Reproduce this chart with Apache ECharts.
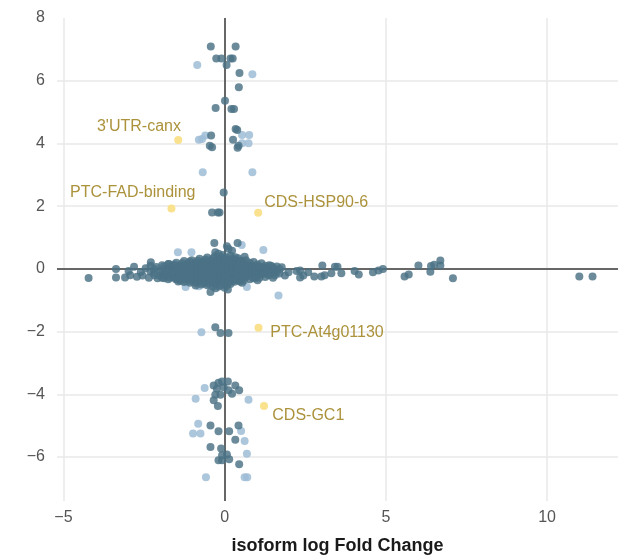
<!DOCTYPE html>
<html>
<head>
<meta charset="utf-8">
<script src="https://cdn.jsdelivr.net/npm/echarts@6/dist/echarts.min.js"></script>
<style>html,body{margin:0;padding:0;background:#fff}#c{width:621px;height:560px}</style>
</head>
<body>
<div id="c"></div>
<script>
// ---- data (x = isoform log fold change, y = second statistic) ----
const xTicks = [-5, 0, 5, 10];
const yTicks = [-6, -4, -2, 0, 2, 4, 6, 8];
const xTitle = "isoform log Fold Change";

// outlying significant isoforms (dark)
const darkUpper = [[-0.43,7.09],[0.34,7.09],[-0.26,6.71],[-0.10,6.71],[0.18,6.71],[0.25,6.71],[0.06,6.50],[0.46,6.25],[0.44,5.79],[0.01,5.36],[-0.28,5.13],[0.21,5.10],[0.29,5.10],[-0.42,4.25],[0.34,4.46],[0.39,4.43],[0.26,4.12],[-0.46,3.93],[-0.39,3.88],[0.43,3.93],[0.40,3.86],[-0.03,2.44],[-0.39,1.80],[-0.21,1.80],[-0.16,1.80]];
const darkLower = [[-0.29,-1.86],[-0.13,-2.04],[0.12,-2.04],[-0.34,-3.72],[-0.19,-3.63],[-0.08,-3.59],[0.10,-3.59],[0.33,-3.72],[0.45,-3.87],[0.23,-3.98],[0.12,-3.87],[-0.24,-3.82],[-0.29,-4.01],[-0.13,-4.01],[-0.34,-4.19],[-0.21,-4.37],[-0.03,-3.77],[-0.44,-4.99],[0.43,-4.99],[-0.19,-5.18],[0.14,-5.18],[0.33,-5.45],[-0.44,-5.68],[-0.11,-5.73],[-0.08,-5.94],[0.07,-5.92],[-0.19,-6.10],[-0.08,-6.10],[0.14,-6.07],[0.45,-6.23]];
const darkNearZero = [[-0.32,0.83],[0.40,0.83],[0.07,0.72],[0.12,0.64],[0.23,0.58],[-0.29,0.53],[-0.19,0.48],[0.62,0.39],[0.33,0.37],[-0.44,-0.74],[-0.90,-0.53],[-0.28,-0.62],[0.0,-0.60],[0.10,-0.66],[1.77,0.05],[1.87,-0.21],[1.98,-0.11],[2.23,-0.07],[2.44,-0.21]];
const darkLeftTail = [[-4.22,-0.29],[-3.37,0.0],[-3.37,-0.27],[-3.09,-0.27],[-2.98,-0.07],[-2.93,-0.20],[-2.81,0.07],[-2.72,-0.25],[-2.60,-0.10],[-2.55,-0.21],[-2.45,0.02],[-2.35,-0.28],[-2.29,0.21],[-2.20,-0.12],[-2.12,0.06],[-2.08,-0.30],[-1.73,0.16],[-1.52,-0.32]];
const darkRightTail = [[2.34,-0.27],[2.34,-0.05],[2.59,-0.11],[2.78,-0.24],[3.03,0.11],[3.00,-0.24],[3.10,-0.20],[3.42,0.07],[3.50,0.07],[3.31,-0.14],[3.62,-0.14],[4.03,-0.07],[4.16,-0.18],[4.60,-0.11],[4.77,-0.05],[4.91,0.0],[5.58,-0.24],[5.71,-0.18],[6.01,0.11],[6.38,-0.09],[6.40,0.09],[6.50,0.13],[6.69,0.27],[6.69,0.11],[7.08,-0.30],[11.00,-0.24],[11.41,-0.24]];
// dense core near the origin
const darkCore = [
[-2.0,-0.05],[-2.0,-0.22],
[-1.88,0.08],[-1.88,-0.15],[-1.88,-0.30],
[-1.75,0.16],[-1.75,-0.02],[-1.75,-0.20],[-1.75,-0.33],
[-1.62,0.10],[-1.62,-0.08],[-1.62,-0.25],
[-1.50,0.20],[-1.50,0.02],[-1.50,-0.14],[-1.50,-0.32],
[-1.38,0.12],[-1.38,-0.05],[-1.38,-0.22],[-1.38,-0.38],
[-1.26,0.25],[-1.26,0.06],[-1.26,-0.10],[-1.26,-0.28],[-1.26,-0.42],
[-1.14,0.18],[-1.14,0.0],[-1.14,-0.16],[-1.14,-0.34],
[-1.02,0.28],[-1.02,0.10],[-1.02,-0.06],[-1.02,-0.22],[-1.02,-0.40],
[-0.90,0.20],[-0.90,0.03],[-0.90,-0.13],[-0.90,-0.30],[-0.90,-0.45],
[-0.78,0.32],[-0.78,0.14],[-0.78,-0.04],[-0.78,-0.20],[-0.78,-0.37],
[-0.66,0.24],[-0.66,0.07],[-0.66,-0.10],[-0.66,-0.27],[-0.66,-0.46],
[-0.54,0.36],[-0.54,0.17],[-0.54,0.0],[-0.54,-0.17],[-0.54,-0.34],[-0.54,-0.52],
[-0.42,0.28],[-0.42,0.10],[-0.42,-0.07],[-0.42,-0.24],[-0.42,-0.42],
[-0.30,0.40],[-0.30,0.21],[-0.30,0.03],[-0.30,-0.14],[-0.30,-0.31],[-0.30,-0.50],
[-0.18,0.32],[-0.18,0.13],[-0.18,-0.04],[-0.18,-0.21],[-0.18,-0.38],[-0.18,-0.56],
[-0.06,0.44],[-0.06,0.25],[-0.06,0.07],[-0.06,-0.10],[-0.06,-0.27],[-0.06,-0.45],
[0.06,0.36],[0.06,0.17],[0.06,0.0],[0.06,-0.18],[0.06,-0.35],[0.06,-0.54],
[0.18,0.42],[0.18,0.22],[0.18,0.04],[0.18,-0.13],[0.18,-0.30],[0.18,-0.48],
[0.30,0.30],[0.30,0.12],[0.30,-0.06],[0.30,-0.23],[0.30,-0.41],
[0.42,0.34],[0.42,0.16],[0.42,-0.02],[0.42,-0.19],[0.42,-0.37],
[0.54,0.25],[0.54,0.07],[0.54,-0.10],[0.54,-0.28],[0.54,-0.44],
[0.66,0.28],[0.66,0.10],[0.66,-0.08],[0.66,-0.25],
[0.78,0.20],[0.78,0.02],[0.78,-0.15],[0.78,-0.33],
[0.90,0.22],[0.90,0.05],[0.90,-0.12],[0.90,-0.30],
[1.02,0.14],[1.02,-0.03],[1.02,-0.20],[1.02,-0.36],
[1.14,0.18],[1.14,0.0],[1.14,-0.17],
[1.26,0.10],[1.26,-0.08],[1.26,-0.26],
[1.38,0.12],[1.38,-0.04],[1.38,-0.20],
[1.50,0.05],[1.50,-0.13],[1.50,-0.28],
[1.62,0.08],[1.62,-0.10]
];
const darkCoreB = [
[-2.30,-0.08],[-2.30,0.10],[-2.18,-0.20],[-2.18,0.0],
[-1.94,0.12],[-1.94,-0.12],[-1.94,-0.28],
[-1.82,0.0],[-1.82,-0.22],
[-1.69,0.06],[-1.69,-0.12],[-1.69,-0.28],
[-1.56,0.14],[-1.56,-0.04],[-1.56,-0.20],
[-1.44,0.08],[-1.44,-0.10],[-1.44,-0.26],[-1.44,-0.40],
[-1.32,0.18],[-1.32,0.0],[-1.32,-0.16],[-1.32,-0.32],
[-1.20,0.10],[-1.20,-0.06],[-1.20,-0.22],[-1.20,-0.38],
[-1.08,0.24],[-1.08,0.06],[-1.08,-0.10],[-1.08,-0.28],[-1.08,-0.44],
[-0.96,0.14],[-0.96,-0.02],[-0.96,-0.18],[-0.96,-0.35],
[-0.84,0.26],[-0.84,0.08],[-0.84,-0.08],[-0.84,-0.26],[-0.84,-0.42],
[-0.72,0.18],[-0.72,0.0],[-0.72,-0.16],[-0.72,-0.32],[-0.72,-0.50],
[-0.60,0.30],[-0.60,0.10],[-0.60,-0.06],[-0.60,-0.24],[-0.60,-0.42],
[-0.48,0.20],[-0.48,0.04],[-0.48,-0.12],[-0.48,-0.30],[-0.48,-0.48],
[-0.36,0.34],[-0.36,0.14],[-0.36,-0.02],[-0.36,-0.20],[-0.36,-0.38],[-0.36,-0.56],
[-0.24,0.26],[-0.24,0.08],[-0.24,-0.10],[-0.24,-0.27],[-0.24,-0.45],
[-0.12,0.38],[-0.12,0.18],[-0.12,0.0],[-0.12,-0.16],[-0.12,-0.33],[-0.12,-0.52],
[0.0,0.30],[0.0,0.10],[0.0,-0.06],[0.0,-0.24],[0.0,-0.42],
[0.12,0.28],[0.12,0.08],[0.12,-0.09],[0.12,-0.26],[0.12,-0.44],
[0.24,0.32],[0.24,0.14],[0.24,-0.03],[0.24,-0.20],[0.24,-0.38],
[0.36,0.22],[0.36,0.04],[0.36,-0.14],[0.36,-0.32],
[0.48,0.26],[0.48,0.08],[0.48,-0.06],[0.48,-0.24],[0.48,-0.40],
[0.60,0.16],[0.60,-0.02],[0.60,-0.18],[0.60,-0.36],
[0.72,0.12],[0.72,-0.04],[0.72,-0.20],
[0.84,0.10],[0.84,-0.07],[0.84,-0.24],
[0.96,0.08],[0.96,-0.10],[0.96,-0.28],
[1.08,0.06],[1.08,-0.10],[1.08,-0.28],
[1.20,0.04],[1.20,-0.14],
[1.32,0.02],[1.32,-0.16],
[1.44,0.10],[1.44,-0.06],
[1.56,-0.04],[1.56,-0.20],
[1.70,0.0],[1.70,-0.15]
];
// non-significant isoforms (light)
const lightPoints = [[-0.85,6.50],[0.86,6.21],[-0.70,4.14],[-0.80,4.12],[-0.60,4.25],[0.54,4.27],[0.76,4.27],[0.54,4.01],[0.74,4.01],[-0.68,3.08],[0.86,3.08],
[-0.72,-2.02],[-0.62,-3.80],[-0.90,-4.14],[0.74,-4.17],[-0.82,-4.94],[-0.98,-5.25],[-0.75,-5.25],[0.51,-5.17],[0.62,-5.49],[0.69,-5.89],[-0.58,-6.64],[0.62,-6.64],[0.70,-6.64],
[-1.45,0.53],[-1.03,0.53],[1.20,0.60],[0.53,0.76],[-1.21,-0.58],[-0.80,-0.55],[0.69,-0.58],[1.67,-0.85]];
// highlighted isoforms
const hiNames = ["3'UTR-canx", "PTC-FAD-binding", "CDS-HSP90-6", "PTC-At4g01130", "CDS-GC1"];
const hiX = [-1.44, -1.65, 1.04, 1.05, 1.22];
const hiY = [4.11, 1.93, 1.79, -1.88, -4.37];

// ---- styling / layout ----
const labelPlace = [
  {position: [6.7, -9.3], align: 'right'},
  {position: [28, -12], align: 'right'},
  {position: [10, -5.7], align: 'left'},
  {position: [15.7, 8.3], align: 'left'},
  {position: [12.3, 13.4], align: 'left'}
];
const FONT = "'Liberation Sans', Arial, sans-serif";
const fmtNum = v => (v < 0 ? '\u2212' + Math.abs(v) : String(v));
const onTicks = ticks => v => ticks.some(t => Math.abs(t - v) < 1e-6) ? fmtNum(Math.round(v)) : '';

const darkAll = [].concat(darkCore, darkCoreB, darkLeftTail, darkRightTail, darkNearZero, darkUpper, darkLower);
const hiData = hiNames.map((n, i) => ({
  name: n, value: [hiX[i], hiY[i]],
  label: {show: true, formatter: n, position: labelPlace[i].position, align: labelPlace[i].align, verticalAlign: 'middle'}
}));

const chart = echarts.init(document.getElementById('c'), null, {renderer: 'canvas'});
chart.setOption({
  animation: false,
  backgroundColor: '#ffffff',
  grid: {left: 57, right: 0, top: 18, bottom: 58, containLabel: false},
  xAxis: {
    type: 'value', min: -5.2, max: 12.2, splitNumber: 4,
    name: xTitle, nameLocation: 'middle', nameGap: 36,
    nameTextStyle: {fontFamily: FONT, fontSize: 18, fontWeight: 'bold', color: '#1a1a1a'},
    axisLine: {show: false}, axisTick: {show: false},
    axisLabel: {fontFamily: FONT, fontSize: 16, color: '#555', margin: 9, formatter: onTicks(xTicks)},
    splitLine: {show: true, showMinLine: false, showMaxLine: false, lineStyle: {color: '#e8e8e8', width: 1.5}}
  },
  yAxis: {
    type: 'value', min: -7.4, max: 8, splitNumber: 8,
    axisLine: {show: false}, axisTick: {show: false},
    axisLabel: {fontFamily: FONT, fontSize: 16, color: '#555', margin: 12, formatter: onTicks(yTicks)},
    splitLine: {show: true, showMinLine: false, showMaxLine: false, lineStyle: {color: '#e8e8e8', width: 1.5}}
  },
  series: [
    {
      type: 'scatter', data: [], silent: true,
      markLine: {
        silent: true, symbol: 'none', z: 1, animation: false,
        label: {show: false},
        lineStyle: {color: '#3a3a3a', width: 1.5, type: 'solid'},
        data: [{xAxis: 0}, {yAxis: 0}]
      }
    },
    {
      type: 'scatter', name: 'nonsig', data: lightPoints, symbolSize: 8, z: 3,
      itemStyle: {color: '#9dbcd6', opacity: 0.85}
    },
    {
      type: 'scatter', name: 'sig', data: darkAll, symbolSize: 8, z: 4,
      itemStyle: {color: '#4a7285', opacity: 0.82}
    },
    {
      type: 'scatter', name: 'highlight', data: hiData, symbolSize: 8, z: 5,
      itemStyle: {color: '#f9df88', opacity: 0.95},
      label: {fontFamily: FONT, fontSize: 16, color: '#a68c30'}
    }
  ]
});
</script>
</body>
</html>
